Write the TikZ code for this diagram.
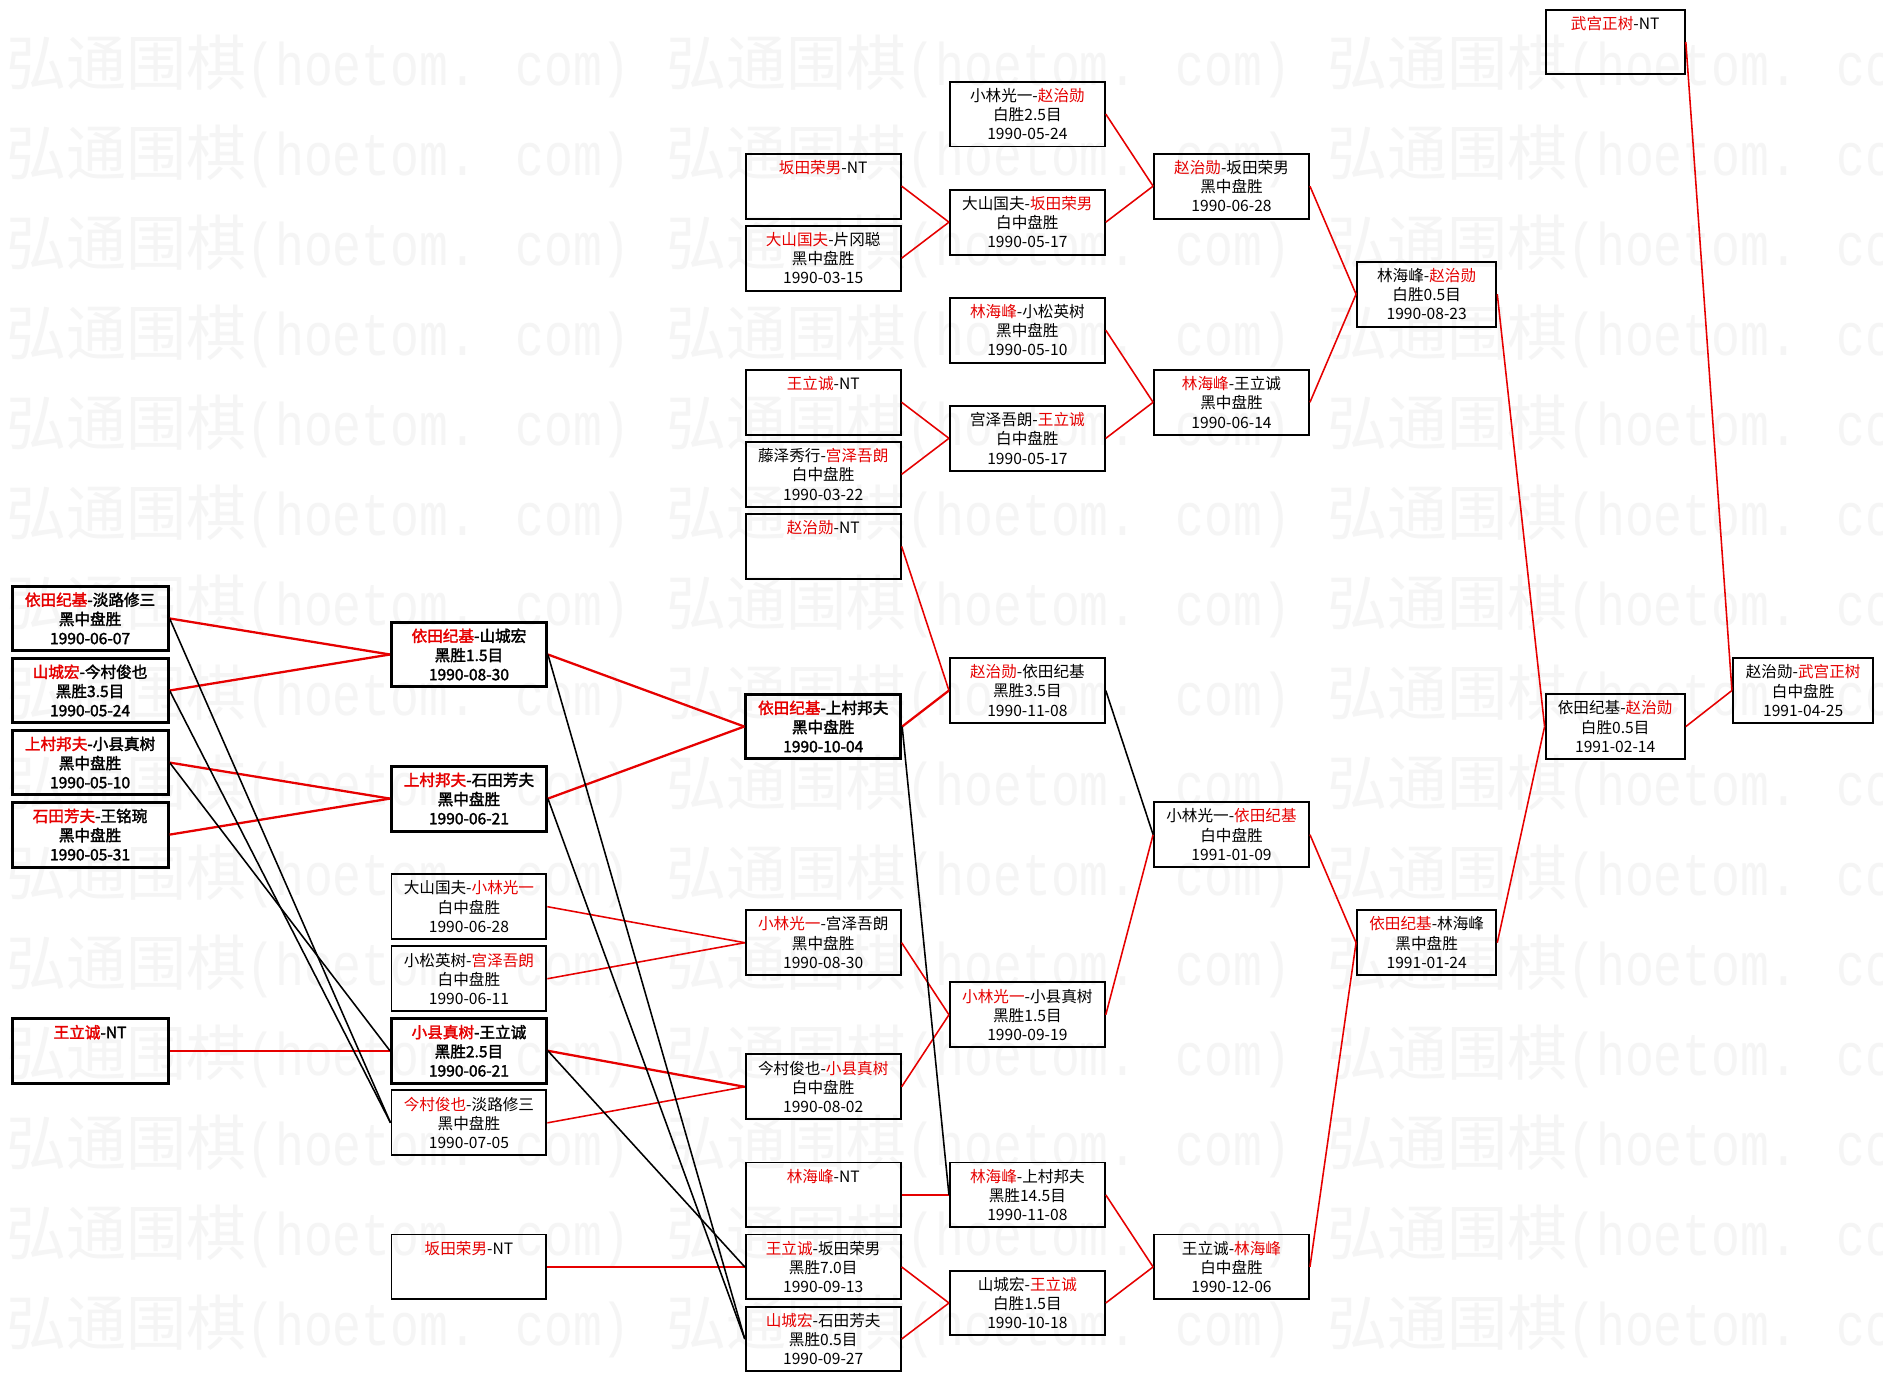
\documentclass[tikz,border=0pt]{standalone}
\usepackage{fontspec}
\newfontfamily\cjk{Noto Sans CJK SC}
\newfontfamily\cjkb[FakeBold=2]{Noto Sans CJK SC}
\newfontfamily\wmmono{Liberation Mono}
\definecolor{wred}{RGB}{230,0,0}
\definecolor{wmgray}{RGB}{245,245,245}
\newcommand{\R}[1]{\textcolor{wred}{#1}}
\newcommand{\E}{\mbox{}}
\begin{document}
\begin{tikzpicture}[x=1pt,y=-1pt,
  box/.style={draw, line width=1.6pt, minimum width=129pt, minimum height=54pt, inner sep=0pt, align=center, font=\cjk\fontsize{13}{16}\selectfont},
  tbox/.style={box, line width=2.5pt, font=\cjkb\fontsize{13}{16}\selectfont},
  nbox/.style={box, minimum width=116pt},
  win/.style={draw=wred, line width=1.3pt},
  twin/.style={draw=wred, line width=1.9pt},
  lose/.style={draw=black, line width=1.3pt},
  wm/.style={anchor=west, inner sep=0pt, text=wmgray}
]
\useasboundingbox (0,0) rectangle (1568,1150);
\fill[white] (0,0) rectangle (1568,1150);
\begin{scope}
\clip (0,0) rectangle (1568,1150);
\foreach \r in {0,...,14}{
  \foreach \c in {0,1,2}{
    \node[wm] (wm-\r-\c) at (5+550*\c, 55+75*\r) {{\cjk\fontsize{50}{50}\selectfont 弘通围棋}{\wmmono\fontsize{40}{40}\selectfont\scalebox{1}[1.25]{(hoetom. com)}}};
  }
}
\end{scope}

% column 1
\node[tbox, minimum width=130pt] (A1) at (75,515) {\R{依田纪基}-淡路修三\\黑中盘胜\\1990-06-07};
\node[tbox, minimum width=130pt] (A2) at (75,575) {\R{山城宏}-今村俊也\\黑胜3.5目\\1990-05-24};
\node[tbox, minimum width=130pt] (A3) at (75,635) {\R{上村邦夫}-小县真树\\黑中盘胜\\1990-05-10};
\node[tbox, minimum width=130pt] (A4) at (75,695) {\R{石田芳夫}-王铭琬\\黑中盘胜\\1990-05-31};
\node[tbox, minimum width=130pt] (A5) at (75,875) {\R{王立诚}-NT\\\E\\\E};

% column 2
\node[tbox] (B1) at (390.5,545) {\R{依田纪基}-山城宏\\黑胜1.5目\\1990-08-30};
\node[tbox] (B2) at (390.5,665) {\R{上村邦夫}-石田芳夫\\黑中盘胜\\1990-06-21};
\node[box] (B3) at (390.5,755) {大山国夫-\R{小林光一}\\白中盘胜\\1990-06-28};
\node[box] (B4) at (390.5,815) {小松英树-\R{宫泽吾朗}\\白中盘胜\\1990-06-11};
\node[tbox] (B5) at (390.5,875) {\R{小县真树}-王立诚\\黑胜2.5目\\1990-06-21};
\node[box] (B6) at (390.5,935) {\R{今村俊也}-淡路修三\\黑中盘胜\\1990-07-05};
\node[box] (B7) at (390.5,1055) {\R{坂田荣男}-NT\\\E\\\E};

% column 3
\node[box] (C1) at (685.5,155) {\R{坂田荣男}-NT\\\E\\\E};
\node[box] (C2) at (685.5,215) {\R{大山国夫}-片冈聪\\黑中盘胜\\1990-03-15};
\node[box] (C3) at (685.5,335) {\R{王立诚}-NT\\\E\\\E};
\node[box] (C4) at (685.5,395) {藤泽秀行-\R{宫泽吾朗}\\白中盘胜\\1990-03-22};
\node[box] (C5) at (685.5,455) {\R{赵治勋}-NT\\\E\\\E};
\node[tbox] (C6) at (685.5,605) {\R{依田纪基}-上村邦夫\\黑中盘胜\\1990-10-04};
\node[box] (C7) at (685.5,785) {\R{小林光一}-宫泽吾朗\\黑中盘胜\\1990-08-30};
\node[box] (C8) at (685.5,905) {今村俊也-\R{小县真树}\\白中盘胜\\1990-08-02};
\node[box] (C9) at (685.5,995) {\R{林海峰}-NT\\\E\\\E};
\node[box] (C10) at (685.5,1055) {\R{王立诚}-坂田荣男\\黑胜7.0目\\1990-09-13};
\node[box] (C11) at (685.5,1115) {\R{山城宏}-石田芳夫\\黑胜0.5目\\1990-09-27};

% column 4
\node[box] (D1) at (855.5,95) {小林光一-\R{赵治勋}\\白胜2.5目\\1990-05-24};
\node[box] (D2) at (855.5,185) {大山国夫-\R{坂田荣男}\\白中盘胜\\1990-05-17};
\node[box] (D3) at (855.5,275) {\R{林海峰}-小松英树\\黑中盘胜\\1990-05-10};
\node[box] (D4) at (855.5,365) {宫泽吾朗-\R{王立诚}\\白中盘胜\\1990-05-17};
\node[box] (D5) at (855.5,575) {\R{赵治勋}-依田纪基\\黑胜3.5目\\1990-11-08};
\node[box] (D6) at (855.5,845) {\R{小林光一}-小县真树\\黑胜1.5目\\1990-09-19};
\node[box] (D7) at (855.5,995) {\R{林海峰}-上村邦夫\\黑胜14.5目\\1990-11-08};
\node[box] (D8) at (855.5,1085) {山城宏-\R{王立诚}\\白胜1.5目\\1990-10-18};

% column 5
\node[box] (E1) at (1025.5,155) {\R{赵治勋}-坂田荣男\\黑中盘胜\\1990-06-28};
\node[box] (E2) at (1025.5,335) {\R{林海峰}-王立诚\\黑中盘胜\\1990-06-14};
\node[box] (E3) at (1025.5,695) {小林光一-\R{依田纪基}\\白中盘胜\\1991-01-09};
\node[box] (E4) at (1025.5,1055) {王立诚-\R{林海峰}\\白中盘胜\\1990-12-06};

% column 6
\node[nbox] (F1) at (1188,245) {林海峰-\R{赵治勋}\\白胜0.5目\\1990-08-23};
\node[nbox] (F2) at (1188,785) {\R{依田纪基}-林海峰\\黑中盘胜\\1991-01-24};

% column 7
\node[nbox] (G1) at (1345,35) {\R{武宫正树}-NT\\\E\\\E};
\node[nbox] (G2) at (1345,605) {依田纪基-\R{赵治勋}\\白胜0.5目\\1991-02-14};

% column 8
\node[nbox, minimum width=117pt] (H1) at (1501.5,575) {赵治勋-\R{武宫正树}\\白中盘胜\\1991-04-25};

% winners' connectors
\draw[twin] (A1.east) -- (B1.west);
\draw[twin] (A2.east) -- (B1.west);
\draw[twin] (A3.east) -- (B2.west);
\draw[twin] (A4.east) -- (B2.west);
\draw[twin] (A5.east) -- (B5.west);
\draw[twin] (B1.east) -- (C6.west);
\draw[twin] (B2.east) -- (C6.west);
\draw[win] (B3.east) -- (C7.west);
\draw[win] (B4.east) -- (C7.west);
\draw[twin] (B5.east) -- (C8.west);
\draw[win] (B6.east) -- (C8.west);
\draw[win] (B7.east) -- (C10.west);
\draw[win] (C1.east) -- (D2.west);
\draw[win] (C2.east) -- (D2.west);
\draw[win] (C3.east) -- (D4.west);
\draw[win] (C4.east) -- (D4.west);
\draw[win] (C5.east) -- (D5.west);
\draw[twin] (C6.east) -- (D5.west);
\draw[win] (C7.east) -- (D6.west);
\draw[win] (C8.east) -- (D6.west);
\draw[win] (C9.east) -- (D7.west);
\draw[win] (C10.east) -- (D8.west);
\draw[win] (C11.east) -- (D8.west);
\draw[win] (D1.east) -- (E1.west);
\draw[win] (D2.east) -- (E1.west);
\draw[win] (D3.east) -- (E2.west);
\draw[win] (D4.east) -- (E2.west);
\draw[win] (D6.east) -- (E3.west);
\draw[win] (D7.east) -- (E4.west);
\draw[win] (D8.east) -- (E4.west);
\draw[win] (E1.east) -- (F1.west);
\draw[win] (E2.east) -- (F1.west);
\draw[win] (E3.east) -- (F2.west);
\draw[win] (E4.east) -- (F2.west);
\draw[win] (F1.east) -- (G2.west);
\draw[win] (F2.east) -- (G2.west);
\draw[win] (G1.east) -- (H1.west);
\draw[win] (G2.east) -- (H1.west);

% losers' connectors
\draw[lose] (A1.east) -- (B6.west);
\draw[lose] (A2.east) -- (B6.west);
\draw[lose] (A3.east) -- (B5.west);
\draw[lose] (B1.east) -- (C11.west);
\draw[lose] (B2.east) -- (C11.west);
\draw[lose] (B5.east) -- (C10.west);
\draw[lose] (C6.east) -- (D7.west);
\draw[lose] (D5.east) -- (E3.west);
\end{tikzpicture}
\end{document}
